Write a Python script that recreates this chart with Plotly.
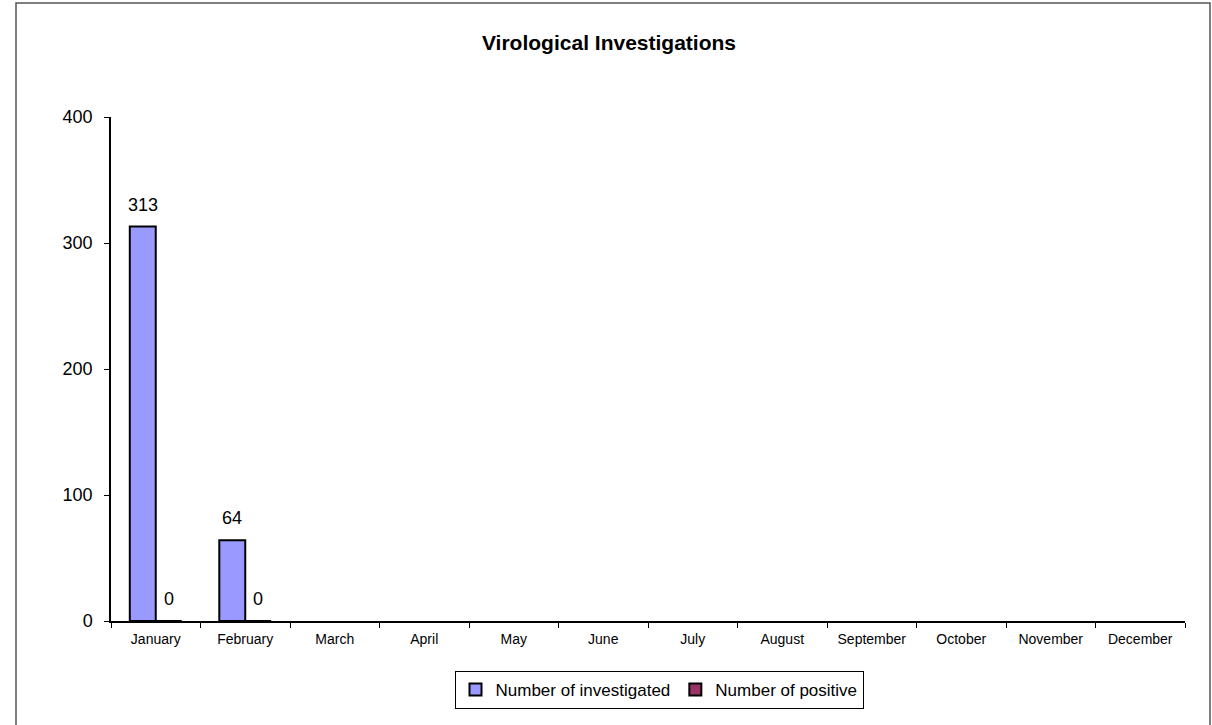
import plotly.graph_objects as go

months = ["January", "February", "March", "April", "May", "June", "July",
          "August", "September", "October", "November", "December"]
investigated = [313, 64, None, None, None, None, None, None, None, None, None, None]
positive = [0, 0, None, None, None, None, None, None, None, None, None, None]

L, R, T, B = 111, 27, 117, 104
W, H = 1212, 725
pw, ph = W - L - R, H - T - B
BARGAP = 0.42
half = pw / 12 * (1 - BARGAP) / 4  # half-width of one bar in px

FONT = "Liberation Sans, Arial, sans-serif"

fig = go.Figure()
fig.add_trace(go.Bar(
    x=months, y=investigated, name="Number of investigated",
    marker=dict(color="#9999FF", line=dict(color="black", width=2)),
))
fig.add_trace(go.Bar(
    x=months, y=positive, name="Number of positive",
    marker=dict(color="#993366", line=dict(color="black", width=2)),
))

annotations = []
for vals, sx in ((investigated, -half), (positive, half)):
    for m, v in zip(months, vals):
        if v is None:
            continue
        annotations.append(dict(
            x=m, y=v, xref="x", yref="y", text=str(v), showarrow=False,
            xshift=sx, yshift=22, yanchor="middle", xanchor="center",
            font=dict(size=18, color="black", family=FONT)))

fig.update_layout(
    width=W, height=H,
    margin=dict(l=L, r=R, t=T, b=B),
    paper_bgcolor="white", plot_bgcolor="white",
    font=dict(family=FONT, color="black"),
    title=dict(text="<b>Virological Investigations</b>", x=609 / W, xref="container",
               xanchor="center", y=1 - 43 / H, yanchor="middle",
               font=dict(size=21, color="black")),
    barmode="group", bargap=BARGAP, bargroupgap=0,
    showlegend=True,
    legend=dict(orientation="h", x=(659 - L) / pw, xanchor="center",
                y=(621 - 671) / ph, yanchor="top",
                bordercolor="black", borderwidth=1, bgcolor="white",
                font=dict(size=17, color="black"), itemwidth=30,
                traceorder="normal"),
    xaxis=dict(showline=True, linecolor="black", linewidth=1.5,
               ticks="outside", tickson="boundaries", ticklen=5, tickcolor="black",
               ticklabelstandoff=4,
               tickfont=dict(size=14, color="black"), showgrid=False, zeroline=False,
               fixedrange=True, layer="above traces"),
    yaxis=dict(range=[0, 400], tickvals=[0, 100, 200, 300, 400],
               showline=True, linecolor="black", linewidth=1.5,
               ticks="outside", ticklen=5, tickcolor="black", ticklabelstandoff=8,
               tickfont=dict(size=18, color="black"), showgrid=False, zeroline=False,
               fixedrange=True),
    annotations=annotations,
    shapes=[dict(type="rect", xref="paper", yref="paper",
                 x0=(16 - L) / pw, x1=(1210 - L) / pw,
                 y0=(621 - 740) / ph, y1=(621 - 3) / ph,
                 line=dict(color="#555555", width=1.5), fillcolor="rgba(0,0,0,0)",
                 layer="below")],
)

fig.write_html(
    "out.html",
    config={"displayModeBar": False},
    post_script="document.body.style.margin='0';document.body.style.overflow='hidden';",
)
